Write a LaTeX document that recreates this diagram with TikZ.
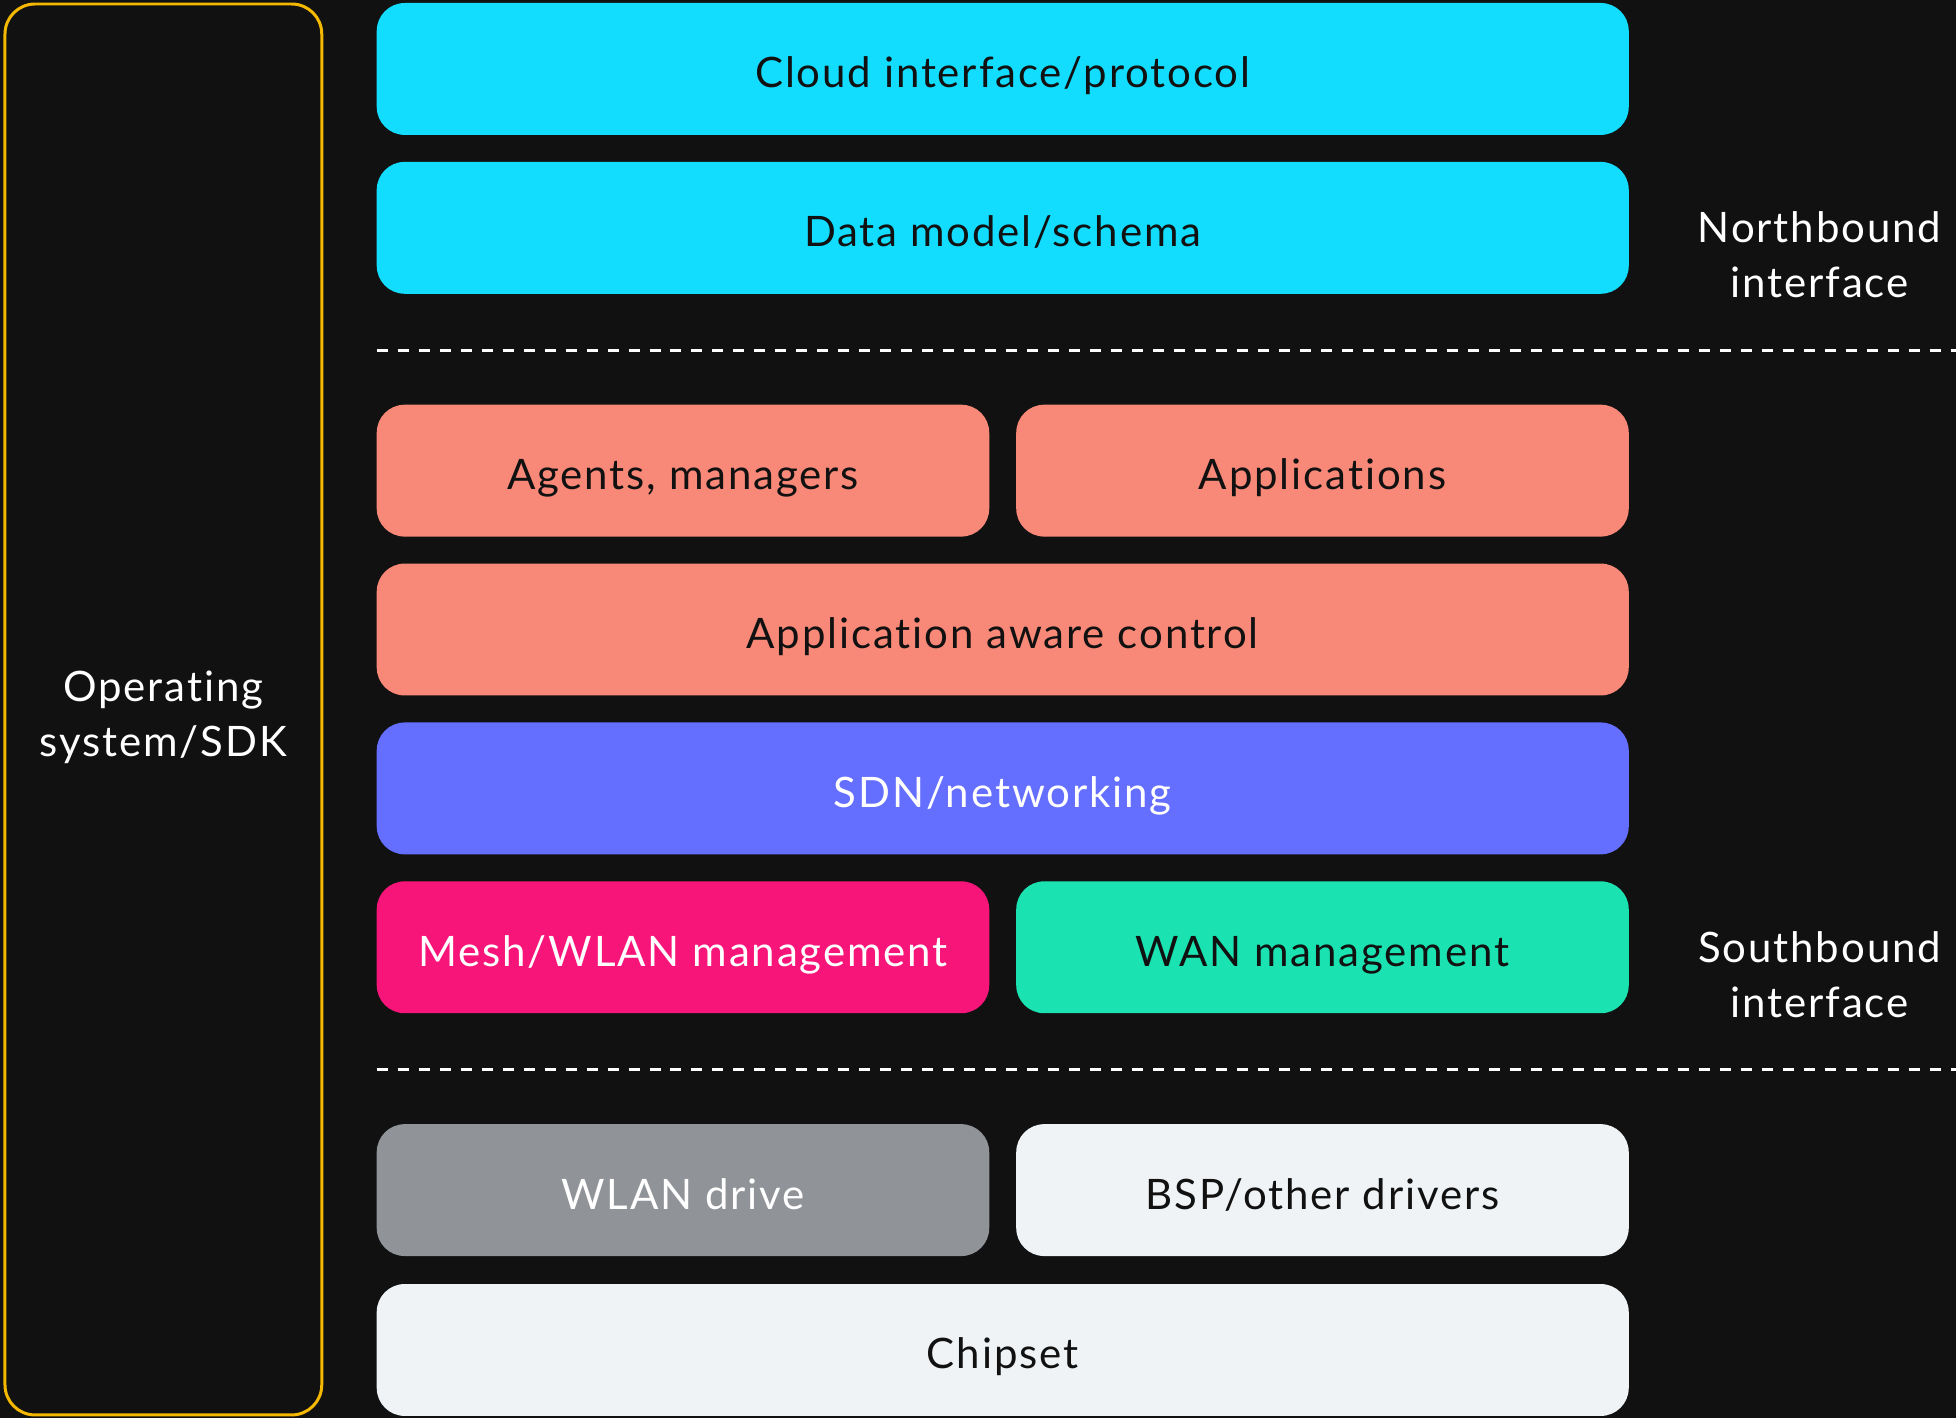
\documentclass[tikz,border=0pt]{standalone}
\usepackage{fontspec}
\setmainfont{Lato}[LetterSpace=4.5, RawFeature={-liga;-dlig;-clig}]
\definecolor{bg}{HTML}{111111}
\definecolor{oscol}{HTML}{F5B800}
\definecolor{cloudcol}{HTML}{12DDFF}
\definecolor{appcol}{HTML}{F88877}
\definecolor{sdncol}{HTML}{646EFF}
\definecolor{meshcol}{HTML}{F8157A}
\definecolor{wancol}{HTML}{1AE2B1}
\definecolor{drvcol}{HTML}{909398}
\definecolor{hwcol}{HTML}{EFF3F6}
\tikzset{
  layer/.style={rounded corners=14pt, minimum height=66pt, inner sep=0pt,
    text height=19pt, text depth=0pt,
    font=\fontsize{21}{26}\selectfont, text=bg},
  wide/.style={layer, minimum width=626.5pt},
  half/.style={layer, minimum width=306.5pt},
  side/.style={text=white, align=center, font=\fontsize{21}{27.5}\selectfont},
  divider/.style={white, line width=1.5pt, dash pattern=on 5.5pt off 5pt}
}
\begin{document}
\begin{tikzpicture}[x=0.5pt, y=-0.5pt]
  \fill[bg] (0,0) rectangle (1957,1419);
  % operating system column
  \node[draw=oscol, line width=1.5pt, rounded corners=15pt,
    minimum width=158.5pt, minimum height=706pt] (os) at (163.5,710) {};
  \node[side] (oslabel) at (163.5,718) {Operating\\system/SDK};
  % northbound
  \node[wide, fill=cloudcol] (cloud) at (1003.5,69) {Cloud interface/protocol};
  \node[wide, fill=cloudcol] (model) at (1003.5,228) {Data model/schema};
  \node[side] (north) at (1821,255) {Northbound\\interface};
  \draw[divider] (377,351) -- (1957,351);
  % middle layers
  \node[half, fill=appcol] (agents) at (683.5,471) {Agents, managers};
  \node[half, fill=appcol] (apps) at (1323.5,471) {Applications};
  \node[wide, fill=appcol] (aware) at (1003.5,630) {Application aware control};
  \node[wide, fill=sdncol, text=white] (sdn) at (1003.5,789) {SDN/networking};
  \node[half, fill=meshcol, text=white] (mesh) at (683.5,948) {Mesh/WLAN management};
  \node[half, fill=wancol] (wan) at (1323.5,948) {WAN management};
  \node[side] (south) at (1821,975) {Southbound\\interface};
  \draw[divider] (377,1070) -- (1957,1070);
  % drivers and hardware
  \node[half, fill=drvcol, text=white] (wlan) at (683.5,1191) {WLAN drive};
  \node[half, fill=hwcol] (bsp) at (1323.5,1191) {BSP/other drivers};
  \node[wide, fill=hwcol] (chip) at (1003.5,1351) {Chipset};
\end{tikzpicture}
\end{document}
